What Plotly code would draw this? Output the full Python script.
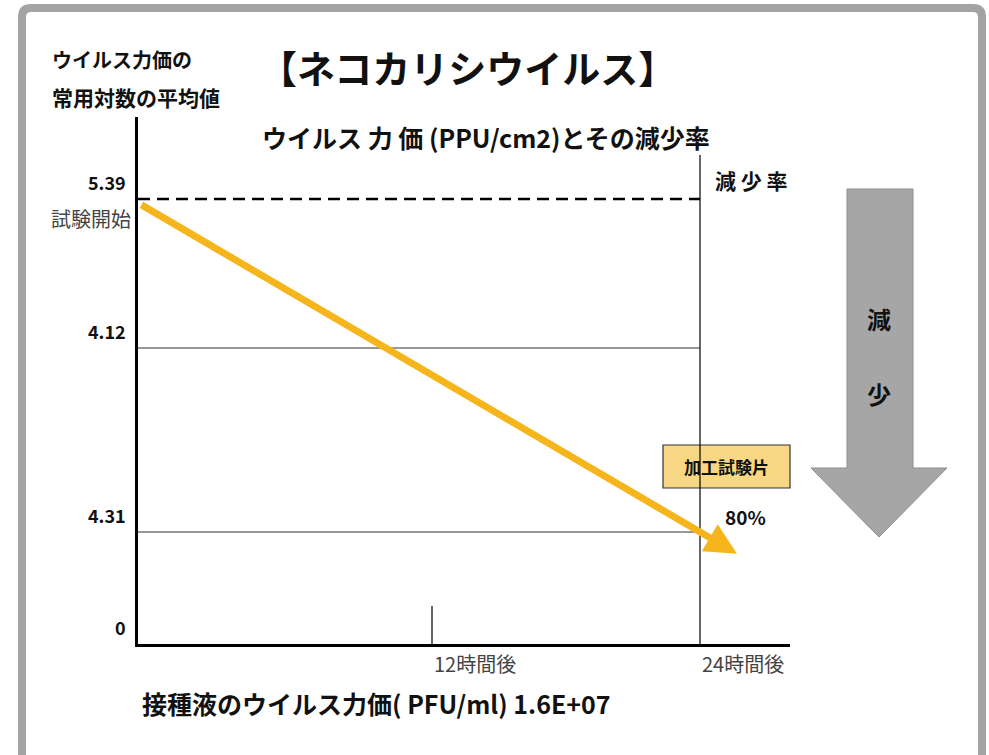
import plotly.graph_objects as go

# Schematic levels on the vertical axis (label, drawn position)
level_labels = ["0", "4.31", "4.12", "5.39"]
level_pos = [0, 112, 296, 445]

# Time marks on the horizontal axis
time_labels = ["12時間後", "24時間後"]
time_pos = [294, 562]

start_label = "試験開始"
reduction_label = "加工試験片"
reduction_rate = "80%"

W, H = 989, 755
FONT = "Noto Sans CJK JP"


def px(x):
    return x / W


def py(y):
    return 1 - y / H


fig = go.Figure()
fig.add_trace(go.Scatter(x=[0, 652], y=[0, 527], mode="markers",
                         marker=dict(opacity=0), hoverinfo="skip", showlegend=False))

shapes = []

# outer rounded frame
r = 9
L, T, R, B = 22, 8, 982, 775
frame = (f"M {px(L)},{py(T + r)} Q {px(L)},{py(T)} {px(L + r)},{py(T)} "
         f"L {px(R - r)},{py(T)} Q {px(R)},{py(T)} {px(R)},{py(T + r)} "
         f"L {px(R)},{py(B)} L {px(L)},{py(B)} Z")
shapes.append(dict(type="path", path=frame, xref="paper", yref="paper",
                   line=dict(color="#a3a3a3", width=8), fillcolor="rgba(0,0,0,0)"))

# label box for the treated sample
shapes.append(dict(type="rect", xref="paper", yref="paper",
                   x0=px(663), x1=px(790), y0=py(488), y1=py(445),
                   fillcolor="#f8d784", line=dict(color="#333333", width=1.2)))

x_end = time_pos[1]
# start level (dashed)
shapes.append(dict(type="line", xref="x", yref="y", x0=0, x1=x_end,
                   y0=level_pos[3], y1=level_pos[3],
                   line=dict(color="black", width=2.5, dash="12px,7px")))
# intermediate levels
for lv in level_pos[1:3]:
    shapes.append(dict(type="line", xref="x", yref="y", x0=0, x1=x_end,
                       y0=lv, y1=lv, line=dict(color="#333333", width=1.2)))
# 24h vertical line and 12h tick
shapes.append(dict(type="line", xref="x", yref="y", x0=time_pos[1], x1=time_pos[1],
                   y0=0, y1=489, line=dict(color="black", width=1.2)))
shapes.append(dict(type="line", xref="x", yref="y", x0=time_pos[0], x1=time_pos[0],
                   y0=0, y1=38, line=dict(color="black", width=1.2)))

# big grey "decrease" arrow
ga = [(847, 189), (913, 189), (913, 468), (947, 468), (879, 537), (811, 468), (847, 468)]
gpath = "M " + " L ".join(f"{px(x)},{py(y)}" for x, y in ga) + " Z"
shapes.append(dict(type="path", path=gpath, xref="paper", yref="paper",
                   fillcolor="#a6a6a6", line=dict(color="#8f8f8f", width=1)))

annotations = []


def txt(text, x, y, size, xanchor="center", color="#111111", bold=True):
    annotations.append(dict(
        text=f"<b>{text}</b>" if bold else text,
        x=px(x), y=py(y), xref="paper", yref="paper",
        xanchor=xanchor, yanchor="middle", showarrow=False,
        font=dict(family=FONT, size=size, color=color)))


txt("ウイルス力価の", 50, 60, 20, xanchor="left")
txt("常用対数の平均値", 50, 97, 21, xanchor="left")
txt("【ネコカリシウイルス】", 467, 67, 38)
txt("ウイルス 力 価 (PPU/cm2)とその減少率", 486, 137, 25)
txt("減 少 率", 751, 180, 21)
txt("接種液のウイルス力価( PFU/ml) 1.6E+07", 140, 703, 25, xanchor="left")
txt(reduction_label, 726, 466, 17)
txt(reduction_rate, 745, 516, 19)
txt("減", 879, 318, 24)
txt("少", 879, 393, 24)
txt(start_label, 133, 218, 20, xanchor="right", color="#444444", bold=False)

# level labels sit just above their lines
for lab, lv in zip(level_labels, level_pos):
    annotations.append(dict(text=f"<b>{lab}</b>", x=px(128), xref="paper",
                            y=lv, yref="y", yshift=17, xanchor="right",
                            yanchor="middle", showarrow=False,
                            font=dict(family=FONT, size=18, color="#111111")))

# time labels under the axis
for lab, tp in zip(time_labels, time_pos):
    annotations.append(dict(text=lab, x=tp, xref="x", y=py(663), yref="paper",
                            xanchor="left", yanchor="middle", showarrow=False,
                            font=dict(family=FONT, size=20, color="#444444")))

# decline arrow from start level through the 24h level
x0, y0 = 2, level_pos[3] - 5
x1, y1 = time_pos[1], level_pos[1]
ext = 0.066
tip_x = x1 + ext * (x1 - x0)
tip_y = y1 + ext * (y1 - y0)
annotations.append(dict(x=tip_x, y=tip_y, ax=x0, ay=y0, xref="x", yref="y",
                        axref="x", ayref="y", showarrow=True, arrowhead=2,
                        arrowsize=0.9, arrowwidth=7, arrowcolor="#f5b51b",
                        standoff=0, startstandoff=0, text=""))

fig.update_layout(
    width=W, height=H, margin=dict(l=0, r=0, t=0, b=0),
    paper_bgcolor="white", plot_bgcolor="white",
    shapes=shapes, annotations=annotations, showlegend=False,
    xaxis=dict(domain=[px(138), px(790)], range=[0, 652], showgrid=False,
               zeroline=False, showticklabels=False, ticks="",
               showline=True, linecolor="black", linewidth=3),
    yaxis=dict(domain=[py(644), py(117)], range=[0, 527], showgrid=False,
               zeroline=False, showticklabels=False, ticks="",
               showline=True, linecolor="black", linewidth=3),
)

fig.write_html("out.html")
